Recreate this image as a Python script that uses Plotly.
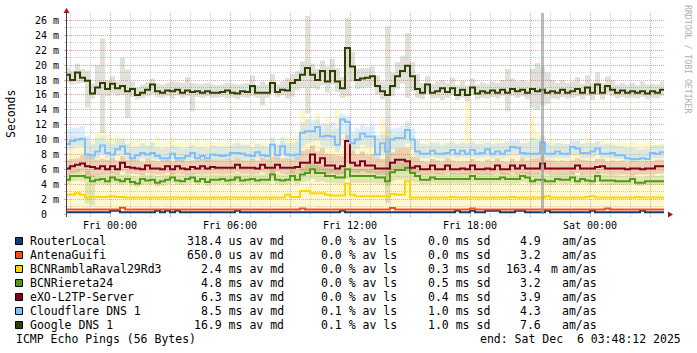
import plotly.graph_objects as go
import pandas as pd

# ---------------- data ----------------
sample_start = "2025-12-04 21:45"
sample_step_minutes = 15
x_range = ["2025-12-04 21:51", "2025-12-06 03:42"]
y_max_ms = 27

x_label_times = ["2025-12-05 00:00", "2025-12-05 06:00", "2025-12-05 12:00",
                 "2025-12-05 18:00", "2025-12-06 00:00"]
x_label_text = ["Fri 00:00", "Fri 06:00", "Fri 12:00", "Fri 18:00", "Sat 00:00"]
x_major_unlabeled = ["2025-12-05 03:00", "2025-12-05 09:00", "2025-12-05 15:00",
                     "2025-12-05 21:00", "2025-12-06 03:00"]

event_times = ["2025-12-05 21:33"]   # grey full-height marker

router_med = [0.25,0.25,0.25,0.25,0.25,0.25,0.25,0.25,0.25,0.42,
              0.42,0.25,0.25,0.25,0.25,0.25,0.25,0.25,0.42,0.25,
              0.42,0.25,0.42,0.25,0.25,0.25,0.25,0.25,0.25,0.25,
              0.25,0.25,0.25,0.25,0.42,0.25,0.25,0.25,0.25,0.25,
              0.25,0.25,0.25,0.25,0.25,0.25,0.25,0.25,0.25,0.25,
              0.25,0.25,0.25,0.25,0.25,0.42,0.25,0.25,0.25,0.25,
              0.25,0.25,0.25,0.25,0.25,0.25,0.25,0.25,0.25,0.25,
              0.25,0.25,0.25,0.25,0.25,0.25,0.25,0.25,0.42,0.25,
              0.25,0.42,0.25,0.25,0.42,0.42,0.42,0.25,0.25,0.25,
              0.42,0.42,0.25,0.25,0.25,0.25,0.42,0.25,0.25,0.25,
              0.25,0.25,0.25,0.25,0.25,0.42,0.25,0.25,0.25,0.25,
              0.25,0.25,0.25,0.25,0.25,0.42,0.25,0.25,0.25,0.25,
              0.25]

antena_med = [0.62,0.62,0.62,0.62,0.62,0.62,0.62,0.62,0.62,0.62,
              0.62,0.85,0.62,0.62,0.62,0.62,0.62,0.62,0.62,0.62,
              0.62,0.62,0.62,0.62,0.62,0.62,0.62,0.62,0.62,0.62,
              0.62,0.62,0.62,0.62,0.62,0.62,0.62,0.62,0.62,0.62,
              0.62,0.62,0.62,0.62,0.62,0.62,0.62,0.75,0.62,0.62,
              0.62,0.62,0.62,0.62,0.62,0.62,0.62,0.62,0.62,0.62,
              0.62,0.62,0.62,0.62,0.62,0.80,0.62,0.62,0.62,0.62,
              0.62,0.62,0.62,0.62,0.62,0.62,0.62,0.62,0.62,0.62,
              0.62,0.75,0.62,0.62,0.62,0.62,0.62,0.62,0.62,0.62,
              0.62,0.62,0.62,0.62,0.62,0.62,0.62,0.62,0.62,0.62,
              0.62,0.62,0.62,0.62,0.62,0.62,0.62,0.62,0.75,0.62,
              0.62,0.62,0.62,0.62,0.62,0.62,0.62,0.62,0.62,0.62,
              0.62]

rambla_med = [2.6,2.6,2.8,2.6,2.2,2.3,2.3,2.3,2.3,2.4,
              2.3,2.3,2.2,2.2,2.2,2.2,2.2,2.2,2.2,2.2,
              2.2,2.2,2.2,2.2,2.2,2.2,2.2,2.2,2.2,2.2,
              2.2,2.2,2.2,2.2,2.2,2.2,2.2,2.2,2.2,2.2,
              2.2,2.2,2.2,2.2,2.6,2.3,2.3,3.1,3.1,2.8,
              2.8,2.8,2.6,2.5,2.5,2.5,4.1,2.6,2.4,2.4,
              2.4,2.4,2.4,2.4,2.4,2.7,2.6,2.6,4.4,2.2,
              2.2,2.2,2.2,2.2,2.2,2.2,2.2,2.3,2.2,2.2,
              2.2,2.2,2.2,2.2,2.2,2.2,2.2,2.2,2.2,2.3,
              2.2,2.2,2.2,2.2,2.2,2.2,2.4,2.2,2.2,2.2,
              2.2,2.2,2.2,2.2,2.3,2.4,2.2,2.2,2.2,2.2,
              2.2,2.2,2.2,2.2,2.3,2.2,2.2,2.2,2.2,2.2,
              2.2]
rambla_lo = [0.8,0.8,0.9,0.8,0.8,0.9,0.8,0.8,0.9,0.8,
             0.8,0.9,0.8,0.8,0.8,0.9,0.8,0.8,0.8,0.9,
             0.8,0.8,0.9,0.8,0.8,0.8,0.9,0.8,0.8,0.8,
             0.9,0.8,0.8,0.8,0.9,0.8,0.8,0.8,0.9,0.8,
             0.8,0.8,0.9,0.8,0.8,0.9,0.8,0.8,0.8,0.9,
             0.8,0.8,0.9,0.8,0.8,0.8,0.9,0.8,0.8,0.8,
             0.9,0.8,0.8,0.8,0.9,0.8,0.8,0.8,0.9,0.8,
             0.8,0.8,0.9,0.8,0.8,0.8,0.9,0.8,0.8,0.8,
             0.9,0.8,0.8,0.8,0.9,0.8,0.8,0.8,0.9,0.8,
             0.8,0.8,0.9,0.8,0.8,0.8,0.9,0.8,0.8,0.8,
             0.9,0.8,0.8,0.8,0.9,0.8,0.8,0.8,0.9,0.8,
             0.8,0.8,0.9,0.8,0.8,0.8,0.9,0.8,0.8,0.8,
             0.8]
rambla_hi = [10.0,10.5,10.2,10.4,10.0,9.8,11.0,11.3,10.6,10.2,
             10.5,10.3,9.9,9.8,10.1,9.6,9.8,9.7,10.4,9.6,
             9.8,10.4,9.6,9.7,9.9,9.6,10.2,9.5,9.9,9.6,
             9.7,9.6,9.9,9.5,9.8,9.6,9.5,9.9,9.6,9.7,
             9.6,10.2,9.7,9.9,10.4,10.0,10.6,14.0,13.0,10.8,
             13.6,11.0,13.1,11.2,14.2,10.8,11.8,10.6,10.9,11.0,
             10.8,10.5,10.2,12.7,11.4,10.6,10.8,11.0,12.2,10.5,
             10.0,9.6,10.1,9.6,9.8,9.5,9.7,9.9,9.6,9.7,
             15.4,10.0,9.6,9.8,9.5,9.7,10.2,9.6,9.8,9.5,
             9.8,9.6,10.0,13.1,11.0,10.5,9.7,9.9,9.6,9.8,
             9.5,9.7,9.9,9.6,10.3,9.5,9.7,9.9,9.6,9.5,
             9.7,9.6,9.5,9.8,9.6,9.5,9.7,9.6,9.4,9.5,
             9.5]

rier_med = [4.6,5.1,5.1,5.1,4.9,4.4,4.6,4.7,4.4,4.9,
            4.6,4.4,4.7,4.3,4.1,4.7,4.5,4.6,4.2,4.4,
            4.6,4.9,4.5,4.4,4.7,4.9,4.4,4.7,4.3,4.6,
            4.6,4.7,4.5,4.6,4.9,4.5,4.6,4.7,4.5,4.6,
            4.6,5.3,4.6,4.5,4.6,5.1,4.6,5.3,5.5,6.0,
            5.5,5.5,5.1,5.1,4.9,4.9,6.0,5.1,5.1,5.1,
            5.1,5.1,4.9,4.9,4.4,5.6,5.9,5.9,6.2,5.5,
            5.1,4.6,4.6,4.9,4.7,4.7,4.7,4.7,4.7,4.7,
            4.7,5.1,4.7,4.7,4.7,4.7,4.7,4.9,4.7,4.7,
            4.7,5.1,4.9,4.4,4.6,4.6,4.4,4.4,4.7,4.6,
            4.6,4.9,4.4,4.7,4.5,4.4,5.1,4.5,4.5,4.5,
            4.4,4.4,4.4,4.7,4.2,4.2,4.4,4.4,4.4,4.4,
            4.4]
rier_up = [0.8,0.7,0.8,0.6,0.9,0.8,0.7,0.8,0.9,0.7,
           0.8,0.9,0.7,0.8,0.9,0.7,0.8,0.7,0.9,0.8,
           0.7,0.6,0.8,0.8,0.7,0.6,0.8,0.7,0.9,0.7,
           0.7,0.7,0.8,0.7,0.6,0.8,0.7,0.7,0.8,0.7,
           0.8,0.7,0.8,0.8,0.9,0.8,0.9,1.0,1.2,1.0,
           1.1,1.0,1.1,1.0,1.0,0.9,0.8,1.0,0.9,1.0,
           0.9,1.0,0.9,1.0,1.1,1.0,1.1,1.0,0.9,1.0,
           0.8,0.8,0.8,0.7,0.8,0.7,0.8,0.8,0.7,0.8,
           0.8,0.6,0.8,0.7,0.8,0.7,0.8,0.7,0.8,0.7,
           0.8,0.6,0.7,1.0,0.9,0.8,0.8,0.9,0.7,0.8,
           0.8,0.7,0.8,0.7,0.8,0.8,0.6,0.8,0.7,0.8,
           0.8,0.7,0.8,0.7,0.8,0.8,0.7,0.8,0.7,0.8,
           0.8]
rier_dn = [0.6,0.7,0.6,0.7,3.5,3.2,0.6,0.7,0.5,0.7,
           0.6,0.5,0.6,0.5,0.5,0.7,0.6,0.6,0.5,0.6,
           0.6,0.7,0.6,0.5,0.6,0.7,0.5,0.6,0.5,0.6,
           0.6,0.6,0.6,0.6,0.7,0.6,0.6,0.6,0.6,0.6,
           0.6,0.9,0.6,0.6,0.6,0.8,0.6,1.0,1.1,1.3,
           1.2,1.1,0.9,0.9,0.8,0.8,1.3,0.9,0.9,0.9,
           0.9,0.9,0.8,0.8,0.6,1.2,1.3,1.3,1.6,1.2,
           0.9,0.6,0.6,0.7,0.6,0.6,0.6,0.6,0.6,0.6,
           0.6,0.8,0.6,0.6,0.6,0.6,0.6,0.7,0.6,0.6,
           0.6,0.8,0.7,0.5,0.6,0.6,0.5,0.5,0.6,0.6,
           0.6,0.7,0.5,0.6,0.6,0.5,0.8,0.6,0.6,0.6,
           0.5,0.5,0.5,0.6,0.4,0.4,0.5,0.5,0.5,0.5,
           0.5]

exo_med = [6.1,6.4,6.6,6.8,6.4,6.3,6.1,6.4,6.0,6.4,
           6.0,6.9,6.3,6.2,6.1,6.0,6.5,6.1,6.1,6.0,
           6.4,6.0,6.4,6.1,6.0,6.3,6.1,6.4,6.1,6.3,
           6.2,6.2,6.2,6.2,6.6,6.2,6.2,6.2,6.1,6.6,
           6.2,6.2,6.6,6.2,6.2,6.2,6.3,6.9,6.9,8.0,
           6.9,7.5,6.5,6.5,6.1,6.4,9.8,6.9,6.5,7.1,
           6.5,6.5,6.1,6.1,6.1,6.9,7.3,7.3,7.1,6.2,
           6.4,6.0,6.0,6.5,6.0,6.0,6.5,6.0,6.0,6.1,
           6.0,6.5,6.0,6.0,6.1,6.0,6.5,6.0,6.0,6.5,
           6.1,6.5,6.1,6.1,6.1,6.8,6.1,6.1,6.1,6.1,
           6.1,6.1,6.5,6.1,6.1,6.1,6.3,6.4,6.1,6.1,
           6.1,6.1,6.0,6.1,6.1,6.0,6.1,6.1,6.4,6.4,
           6.4]
exo_up = [1.2,1.0,0.9,1.1,1.5,1.4,1.2,1.0,1.3,1.1,
          1.2,0.9,1.0,1.1,1.2,1.0,0.9,1.1,1.0,1.2,
          0.9,1.1,1.0,1.2,1.1,0.9,1.1,1.0,1.2,1.0,
          1.1,1.0,1.2,1.1,0.9,1.1,1.0,1.2,1.1,0.9,
          1.1,1.5,1.0,1.3,1.2,1.1,1.4,1.6,1.8,1.2,
          1.5,1.4,1.6,1.5,1.8,1.4,0.8,1.6,1.5,1.3,
          1.4,1.5,1.4,1.3,1.6,1.4,1.5,1.6,1.8,1.5,
          1.2,1.1,1.0,0.9,1.2,1.1,1.0,1.2,1.1,1.0,
          1.1,0.9,1.1,1.0,1.2,1.1,1.0,1.1,1.0,0.9,
          1.0,1.0,1.1,1.3,1.4,1.0,1.2,1.1,1.0,1.1,
          1.0,1.1,1.0,1.2,1.1,1.0,1.1,1.0,1.0,1.1,
          1.0,1.1,1.0,1.1,1.0,1.1,1.0,1.0,0.9,0.9,
          0.9]
exo_dn = [0.8,0.9,1.0,1.1,1.2,1.4,0.9,1.0,0.7,0.9,
          0.7,1.2,0.9,0.8,0.8,0.7,1.0,0.7,0.8,0.7,
          0.9,0.7,1.0,0.8,0.7,0.9,0.8,1.0,0.8,0.9,
          0.8,0.8,0.8,0.8,1.0,0.8,0.8,0.8,0.7,1.0,
          0.8,0.8,1.0,0.8,0.8,0.8,0.9,1.3,1.4,2.0,
          1.3,1.8,1.1,1.0,0.8,1.0,3.0,1.3,1.0,1.4,
          1.0,1.0,0.8,0.8,0.8,1.3,1.5,1.5,1.4,0.8,
          0.9,0.7,0.7,1.0,0.7,0.7,1.0,0.7,0.7,0.8,
          0.7,1.0,0.7,0.7,0.8,0.7,1.0,0.7,0.7,1.0,
          0.8,1.0,0.8,0.8,0.8,1.2,0.8,0.8,0.8,0.8,
          0.8,0.8,1.0,0.8,0.8,0.8,0.9,1.0,0.8,0.8,
          0.8,0.8,0.7,0.8,0.8,0.7,0.8,0.8,1.0,1.0,
          1.0]

cf_med = [9.4,9.8,10.0,10.1,8.0,7.9,8.4,9.2,8.2,8.0,
          8.7,9.1,8.1,7.5,7.9,8.2,8.0,8.2,7.8,7.5,
          7.5,8.1,7.5,7.5,7.8,8.2,7.5,7.8,7.5,8.0,
          7.9,7.8,7.9,8.2,8.2,8.1,7.9,7.8,8.3,7.9,
          7.8,9.3,7.9,9.1,8.0,7.9,8.0,10.9,11.1,11.1,
          11.7,10.4,10.5,10.4,9.3,12.7,12.4,9.5,10.0,10.8,
          10.4,10.4,8.0,9.5,8.4,10.0,10.2,10.2,11.3,10.0,
          8.4,8.1,8.1,8.5,8.1,8.1,8.2,8.6,8.1,8.5,
          8.1,8.6,8.1,8.2,8.7,8.1,8.4,8.1,8.5,9.0,
          8.9,8.2,8.1,8.1,8.1,9.6,8.1,8.1,8.4,8.1,
          8.1,9.0,8.8,8.2,8.2,8.4,8.8,8.1,8.1,8.2,
          7.9,7.9,7.5,7.4,7.4,7.5,7.4,8.2,8.1,8.3,
          8.2]
cf_up = [2.0,1.8,1.6,1.7,2.5,1.5,1.8,1.2,1.5,1.4,
         1.2,1.0,1.3,1.5,1.2,1.3,1.2,1.4,1.2,1.3,
         1.4,1.2,1.5,1.3,1.2,1.1,1.4,1.2,1.3,1.2,
         1.2,1.3,1.2,1.1,1.3,1.2,1.4,1.2,1.1,1.3,
         1.2,1.0,1.4,1.2,1.5,1.6,1.8,1.4,1.6,1.5,
         1.0,1.8,1.5,1.9,2.2,0.8,0.8,1.6,1.5,1.2,
         1.3,1.6,2.6,1.2,2.0,1.5,1.4,1.6,1.2,1.5,
         1.5,1.3,1.2,1.1,1.4,1.2,1.3,1.0,1.3,1.1,
         1.4,1.0,1.3,1.2,1.0,1.3,1.1,1.4,1.2,0.9,
         1.0,1.3,1.5,2.2,1.8,0.9,1.4,1.2,1.1,1.3,
         1.3,1.0,1.0,1.2,1.4,1.1,1.0,1.2,1.3,1.1,
         1.3,1.2,1.4,1.5,1.3,1.2,1.4,1.0,1.1,1.0,
         1.0]
cf_dn = [0.8,1.0,0.9,1.1,0.6,0.5,0.9,1.2,0.7,0.6,
         0.9,1.1,0.7,0.5,0.6,0.7,0.6,0.8,0.5,0.5,
         0.5,0.7,0.5,0.6,0.6,0.8,0.5,0.6,0.5,0.7,
         0.6,0.6,0.6,0.8,0.7,0.7,0.6,0.6,0.8,0.6,
         0.6,1.2,0.6,1.1,0.7,0.6,0.7,1.8,1.6,1.4,
         1.8,1.2,1.4,1.3,1.0,2.0,2.5,1.0,1.3,1.5,
         1.4,1.4,0.6,1.2,0.8,1.3,1.4,1.3,1.8,1.4,
         0.8,0.6,0.6,0.8,0.6,0.6,0.6,0.9,0.6,0.8,
         0.6,0.9,0.6,0.6,0.9,0.6,0.7,0.6,0.8,1.0,
         1.0,0.7,0.6,0.6,0.6,1.2,0.6,0.6,0.8,0.6,
         0.6,1.0,0.9,0.7,0.7,0.8,0.9,0.6,0.6,0.7,
         0.5,0.5,0.4,0.4,0.4,0.4,0.4,0.7,0.6,0.8,
         0.7]

google_med = [18.7,18.0,19.0,18.3,17.9,16.2,17.0,17.6,16.8,17.5,
              16.9,17.2,16.5,16.8,16.0,16.3,16.7,17.4,16.5,16.3,
              16.6,16.5,16.7,16.3,16.6,16.4,16.5,16.3,16.5,16.3,
              16.3,16.4,16.6,16.3,16.2,16.5,16.4,17.2,16.3,16.3,
              16.3,17.6,16.4,16.7,16.6,17.6,18.0,18.7,19.6,18.7,
              18.0,19.2,17.8,19.2,17.8,16.9,22.3,19.8,18.0,18.2,
              18.3,18.5,17.2,16.5,16.0,17.2,18.5,19.2,19.9,18.5,
              16.8,16.3,17.4,16.3,16.5,16.9,16.4,16.9,16.0,16.7,
              16.0,17.0,16.2,16.5,16.3,16.6,16.3,16.7,16.3,16.8,
              16.5,16.7,16.3,16.8,16.5,16.7,16.3,16.5,16.3,16.7,
              16.3,16.5,16.8,16.3,17.0,16.3,17.4,16.3,17.2,16.7,
              16.3,16.6,16.3,16.5,16.3,16.5,16.2,16.5,16.3,16.7,
              16.5]
google_lo = [17.6,17.4,17.5,17.6,14.3,15.5,16.0,10.9,15.8,16.2,
             15.9,16.0,12.9,15.7,15.4,15.5,15.8,16.1,15.7,15.6,
             15.8,15.5,15.9,15.6,15.8,13.8,15.7,15.6,15.8,15.6,
             15.6,15.7,15.5,15.6,15.4,15.7,15.6,15.8,15.6,14.6,
             15.6,16.3,15.7,15.9,15.5,15.7,16.6,16.9,13.5,16.9,
             16.7,17.3,16.3,17.4,16.4,15.6,15.8,17.8,16.8,16.9,
             17.0,17.2,16.0,15.4,1.5,15.8,16.8,17.5,15.6,16.5,
             15.6,15.4,16.2,15.5,15.6,15.3,15.6,15.9,15.3,15.6,
             15.2,16.0,15.4,15.6,15.5,15.7,15.5,15.8,13.8,15.8,
             15.6,15.8,15.4,14.2,14.0,14.6,14.8,15.5,15.4,15.7,
             15.5,15.6,15.8,15.4,15.9,15.3,16.0,15.4,16.2,15.8,
             15.5,15.7,15.5,15.6,15.5,15.7,15.4,15.6,15.5,15.8,
             15.6]
google_hi = [19.6,19.3,20.2,19.5,19.3,17.5,20.0,23.6,18.0,18.5,
             17.8,21.0,19.4,17.8,17.0,17.4,17.7,18.2,17.5,17.4,
             17.6,17.8,17.7,17.6,18.4,17.6,17.5,17.5,17.6,17.4,
             17.3,17.4,17.6,17.5,17.4,17.5,17.6,18.6,17.3,17.8,
             17.4,18.8,17.4,17.8,18.3,18.8,19.2,20.5,26.6,20.2,
             19.5,20.6,19.8,20.8,19.6,18.4,26.3,21.8,19.5,19.6,
             19.6,19.8,18.6,17.8,25.2,19.0,20.4,21.2,24.3,20.4,
             18.8,17.6,18.5,17.5,17.8,18.0,17.6,18.3,17.3,17.9,
             17.3,18.2,17.4,17.7,17.5,17.8,17.6,18.0,19.5,18.2,
             17.8,18.0,17.8,19.5,20.3,19.8,19.0,18.0,17.6,18.0,
             17.6,17.8,18.4,17.5,18.6,17.6,19.0,17.6,18.5,18.0,
             17.4,17.6,17.4,17.6,17.3,17.8,17.4,17.5,17.4,17.8,
             17.5]

# legend table
host_names = ["RouterLocal", "AntenaGuifi", "BCNRamblaRaval29Rd3", "BCNRiereta24",
              "eXO-L2TP-Server", "Cloudflare DNS 1", "Google DNS 1"]
leg_median = [318.4, 650.0, 2.4, 4.8, 6.3, 8.5, 16.9]
leg_median_unit = ["us", "us", "ms", "ms", "ms", "ms", "ms"]
leg_loss = [0.0, 0.0, 0.0, 0.0, 0.0, 0.1, 0.1]
leg_sd = [0.0, 0.0, 0.3, 0.5, 0.4, 1.0, 1.0]
leg_amas = [4.9, 3.2, 163.4, 3.2, 3.9, 4.3, 7.6]
leg_amas_prefix = ["", "", "m", "", "", "", ""]
footer_left = "ICMP Echo Pings (56 Bytes)"
footer_right = "end: Sat Dec\u00a0 6 03:48:12 2025"

# ---------------- styling ----------------
host_colors = ["#0a3f7a", "#ff4a10", "#ffd700", "#4f9a1c", "#820022", "#7fbfff", "#2f4000"]
FONT = "DejaVu Sans Mono"
W, H = 697, 353
L, R, T, B = 67, 664, 13, 214   # plot area in pixels


def pxx(x):
    return (x - L) / (R - L)


def pxy(y):
    return (B - y) / (B - T)


times = pd.date_range(sample_start, periods=len(google_med),
                      freq=f"{sample_step_minutes}min")
step_ms = sample_step_minutes * 60 * 1000

fig = go.Figure()


def smoke(lo, hi, color):
    fig.add_trace(go.Bar(x=times, base=lo, y=[h - l for l, h in zip(lo, hi)],
                         width=step_ms, offset=0,
                         marker=dict(color=color, line=dict(width=0)),
                         showlegend=False, hoverinfo="skip"))


smoke(rambla_lo, rambla_hi, "rgba(255,222,60,0.24)")
smoke([m - d for m, d in zip(rier_med, rier_dn)],
      [m + u for m, u in zip(rier_med, rier_up)], "rgba(90,150,30,0.18)")
smoke([m - d for m, d in zip(exo_med, exo_dn)],
      [m + u for m, u in zip(exo_med, exo_up)], "rgba(150,40,40,0.18)")
smoke([m - d for m, d in zip(cf_med, cf_dn)],
      [m + u for m, u in zip(cf_med, cf_up)], "rgba(120,190,255,0.25)")
smoke(google_lo, google_hi, "rgba(70,85,30,0.17)")

series = [router_med, antena_med, rambla_med, rier_med, exo_med, cf_med, google_med]
for vals, col in zip(series, host_colors):
    fig.add_trace(go.Scatter(x=times, y=vals, mode="lines", line_shape="hv",
                             line=dict(color=col, width=2),
                             showlegend=False, hoverinfo="skip"))

# grey full-height marker
for t in event_times:
    t0 = pd.Timestamp(t)
    fig.add_vrect(x0=t0, x1=t0 + pd.Timedelta(minutes=9), fillcolor="rgba(150,150,150,0.65)",
                  line_width=0, layer="above")

major_grid = "#e6a3a3"
minor_grid = "#cfcfcf"

x_major = sorted(x_label_times + x_major_unlabeled)
x_major_text = [x_label_text[x_label_times.index(t)] if t in x_label_times else "" for t in x_major]
x_minor = [t for t in pd.date_range("2025-12-04 22:00", "2025-12-06 03:00", freq="1h")
           if t.strftime("%Y-%m-%d %H:%M") not in x_major]

y_major = list(range(0, y_max_ms, 2))
y_major_text = ["0\u00a0\u00a0" if v == 0 else f"{v} m" for v in y_major]
y_minor = list(range(1, y_max_ms - 1, 2))

fig.update_xaxes(type="date", range=x_range, showline=False, zeroline=False,
                 tickmode="array", tickvals=x_major, ticktext=x_major_text,
                 showgrid=True, gridcolor=major_grid, griddash="1px,1px", gridwidth=1,
                 ticks="outside", ticklen=2, tickcolor=major_grid,
                 tickfont=dict(family=FONT, size=10, color="#000"),
                 minor=dict(tickmode="array", tickvals=x_minor, showgrid=True,
                            gridcolor=minor_grid, griddash="1px,1px", gridwidth=1,
                            ticks="outside", ticklen=2, tickcolor=minor_grid))
fig.update_yaxes(range=[0, y_max_ms], showline=False, zeroline=False,
                 tickmode="array", tickvals=y_major, ticktext=y_major_text,
                 showgrid=True, gridcolor=major_grid, griddash="1px,1px", gridwidth=1,
                 ticks="outside", ticklen=2, tickcolor=major_grid,
                 ticklabelstandoff=3,
                 tickfont=dict(family=FONT, size=10, color="#000"),
                 minor=dict(tickmode="array", tickvals=y_minor, showgrid=True,
                            gridcolor=minor_grid, griddash="1px,1px", gridwidth=1,
                            ticks="outside", ticklen=2, tickcolor=minor_grid))

shapes = []
# axes with arrows
axis_col = "#404040"
arrow_col = "#a01414"
shapes.append(dict(type="line", xref="paper", yref="paper", x0=pxx(66.5), x1=pxx(668),
                   y0=pxy(214.5), y1=pxy(214.5), line=dict(color=axis_col, width=1)))
shapes.append(dict(type="line", xref="paper", yref="paper", x0=pxx(66.5), x1=pxx(66.5),
                   y0=pxy(217), y1=pxy(10), line=dict(color=axis_col, width=1)))
shapes.append(dict(type="path", xref="paper", yref="paper",
                   path=f"M {pxx(63.5)},{pxy(13)} L {pxx(69.5)},{pxy(13)} L {pxx(66.5)},{pxy(8)} Z",
                   fillcolor=arrow_col, line=dict(width=0)))
shapes.append(dict(type="path", xref="paper", yref="paper",
                   path=f"M {pxx(668)},{pxy(211.5)} L {pxx(668)},{pxy(217.5)} L {pxx(673)},{pxy(214.5)} Z",
                   fillcolor=arrow_col, line=dict(width=0)))

ann = []


def text(x, y, s, anchor="left", size=11.5, color="#000", angle=0):
    ann.append(dict(x=pxx(x), y=pxy(y), xref="paper", yref="paper", text=s,
                    showarrow=False, xanchor=anchor, yanchor="middle",
                    font=dict(family=FONT, size=size, color=color),
                    textangle=angle, borderpad=0, borderwidth=0))


row0, drow = 241, 14
for k, name in enumerate(host_names):
    yc = row0 + drow * k
    shapes.append(dict(type="rect", xref="paper", yref="paper",
                       x0=pxx(15.5), x1=pxx(22.5), y0=pxy(yc - 3.5), y1=pxy(yc + 3.5),
                       fillcolor=host_colors[k], line=dict(color="#000", width=1)))
    text(30, yc, name)
    text(284, yc, f"{leg_median[k]:.1f} {leg_median_unit[k]} av md", anchor="right")
    text(397, yc, f"{leg_loss[k]:.1f} % av ls", anchor="right")
    text(490, yc, f"{leg_sd[k]:.1f} ms sd", anchor="right")
    text(541, yc, f"{leg_amas[k]:.1f}", anchor="right")
    if leg_amas_prefix[k]:
        text(551, yc, leg_amas_prefix[k])
    text(562, yc, "am/as")

text(16, row0 + drow * 7, footer_left)
text(681, row0 + drow * 7, footer_right, anchor="right")
text(11, 114, "Seconds", anchor="center", angle=-90)
text(688, 59, "RRDTOOL / TOBI OETIKER", anchor="center", size=8.2, color="#b0b0b0", angle=90)

fig.update_layout(width=W, height=H, autosize=False,
                  margin=dict(l=L, r=W - R, t=T, b=H - B, pad=0),
                  paper_bgcolor="#ffffff", plot_bgcolor="#ffffff",
                  barmode="overlay", showlegend=False,
                  shapes=shapes, annotations=ann)

fig.write_html("out.html", config={"displayModeBar": False})
